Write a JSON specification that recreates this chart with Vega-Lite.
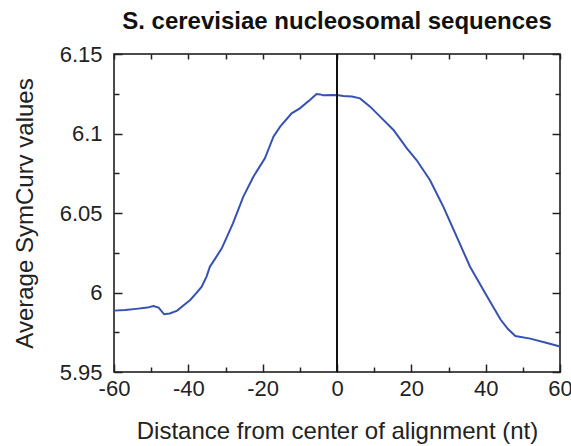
{
  "$schema": "https://vega.github.io/schema/vega-lite/v6.json",
  "width": 446,
  "height": 318,
  "autosize": {"type": "none"},
  "padding": {"left": 114, "top": 54, "right": 11, "bottom": 74},
  "title": {
    "text": "S. cerevisiae nucleosomal sequences",
    "font": "Liberation Sans",
    "fontSize": 24,
    "fontWeight": "bold",
    "color": "#111111",
    "anchor": "middle",
    "baseline": "alphabetic",
    "offset": -10
  },
  "config": {
    "view": {"stroke": "#111111", "strokeWidth": 1.5},
    "axis": {
      "domain": false,
      "grid": false,
      "labelFlush": false,
      "labelFont": "Liberation Sans",
      "titleFont": "Liberation Sans",
      "labelColor": "#222222",
      "titleColor": "#222222",
      "tickColor": "#222222",
      "tickWidth": 1.5,
      "labelFontSize": 22,
      "titleFontSize": 24,
      "titleFontWeight": "normal"
    }
  },
  "data": {
    "values": [
      {"nt": -60, "symcurv": 5.9886},
      {"nt": -57, "symcurv": 5.989},
      {"nt": -54, "symcurv": 5.9897},
      {"nt": -51, "symcurv": 5.9905},
      {"nt": -49.4, "symcurv": 5.9915},
      {"nt": -48, "symcurv": 5.9905},
      {"nt": -46.5, "symcurv": 5.9863},
      {"nt": -45, "symcurv": 5.9868},
      {"nt": -43, "symcurv": 5.9886},
      {"nt": -41, "symcurv": 5.9925},
      {"nt": -39.5, "symcurv": 5.9953},
      {"nt": -37.5, "symcurv": 6.0005},
      {"nt": -36.4, "symcurv": 6.0037},
      {"nt": -35.1, "symcurv": 6.01},
      {"nt": -34.2, "symcurv": 6.0162},
      {"nt": -33.3, "symcurv": 6.0194},
      {"nt": -31, "symcurv": 6.0278},
      {"nt": -28, "symcurv": 6.0435},
      {"nt": -25.2, "symcurv": 6.0603},
      {"nt": -22.5, "symcurv": 6.0728},
      {"nt": -19.4, "symcurv": 6.0844},
      {"nt": -17.1, "symcurv": 6.098},
      {"nt": -15.3, "symcurv": 6.1043},
      {"nt": -12.2, "symcurv": 6.1127},
      {"nt": -10, "symcurv": 6.1158},
      {"nt": -7.3, "symcurv": 6.1211},
      {"nt": -5.5, "symcurv": 6.1248},
      {"nt": -4.5, "symcurv": 6.1246},
      {"nt": -3.7, "symcurv": 6.124},
      {"nt": -1, "symcurv": 6.1242},
      {"nt": 0.4, "symcurv": 6.124},
      {"nt": 1.7, "symcurv": 6.1236},
      {"nt": 4, "symcurv": 6.1232},
      {"nt": 6.2, "symcurv": 6.1221},
      {"nt": 8.9, "symcurv": 6.1169},
      {"nt": 11.6, "symcurv": 6.1106},
      {"nt": 15.2, "symcurv": 6.1022},
      {"nt": 18.8, "symcurv": 6.0907},
      {"nt": 21.4, "symcurv": 6.0833},
      {"nt": 25, "symcurv": 6.0708},
      {"nt": 28.6, "symcurv": 6.054},
      {"nt": 32.2, "symcurv": 6.0351},
      {"nt": 35.8, "symcurv": 6.0162},
      {"nt": 40, "symcurv": 5.999},
      {"nt": 44, "symcurv": 5.983},
      {"nt": 46, "symcurv": 5.977},
      {"nt": 48, "symcurv": 5.9726},
      {"nt": 52, "symcurv": 5.971},
      {"nt": 56, "symcurv": 5.9685},
      {"nt": 60, "symcurv": 5.966}
    ]
  },
  "layer": [
    {
      "mark": {"type": "line", "color": "#3652b0", "strokeWidth": 2},
      "encoding": {
        "x": {
          "field": "nt",
          "type": "quantitative",
          "scale": {"domain": [-60, 60], "nice": false, "zero": false},
          "axis": {
            "orient": "bottom",
            "values": [-60, -50, -40, -30, -20, -10, 0, 10, 20, 30, 40, 50, 60],
            "labelExpr": "datum.value % 20 === 0 ? '' + datum.value : ''",
            "tickSize": {"condition": {"test": "datum.value % 20 === 0", "value": -8}, "value": -5},
            "labelPadding": 14,
            "title": "Distance from center of alignment (nt)",
            "titlePadding": 20
          }
        },
        "y": {
          "field": "symcurv",
          "type": "quantitative",
          "scale": {"domain": [5.95, 6.15], "nice": false, "zero": false},
          "axis": {
            "orient": "left",
            "values": [5.95, 5.975, 6.0, 6.025, 6.05, 6.075, 6.1, 6.125, 6.15],
            "labelExpr": "abs(datum.value * 20 - round(datum.value * 20)) < 0.001 ? format(datum.value, '.2~f') : ''",
            "tickSize": {"condition": {"test": "abs(datum.value * 20 - round(datum.value * 20)) < 0.001", "value": -8}, "value": -5},
            "labelPadding": 20,
            "title": "Average SymCurv values",
            "titlePadding": 22
          }
        }
      }
    },
    {
      "mark": {"type": "line", "opacity": 0},
      "encoding": {
        "x": {
          "field": "nt",
          "type": "quantitative",
          "scale": {"domain": [-60, 60], "nice": false, "zero": false},
          "axis": {
            "orient": "top",
            "values": [-60, -50, -40, -30, -20, -10, 0, 10, 20, 30, 40, 50, 60],
            "labels": false,
            "tickSize": -5,
            "title": null
          }
        },
        "y": {
          "field": "symcurv",
          "type": "quantitative",
          "scale": {"domain": [5.95, 6.15], "nice": false, "zero": false},
          "axis": {
            "orient": "right",
            "values": [5.95, 5.975, 6.0, 6.025, 6.05, 6.075, 6.1, 6.125, 6.15],
            "labels": false,
            "tickSize": {"condition": {"test": "abs(datum.value * 20 - round(datum.value * 20)) < 0.001", "value": -8}, "value": -5},
            "title": null
          }
        }
      }
    },
    {
      "mark": {"type": "rule", "color": "#111111", "strokeWidth": 1.5},
      "encoding": {
        "x": {"datum": 0, "type": "quantitative", "axis": null}
      }
    }
  ],
  "resolve": {"axis": {"x": "independent", "y": "independent"}}
}
